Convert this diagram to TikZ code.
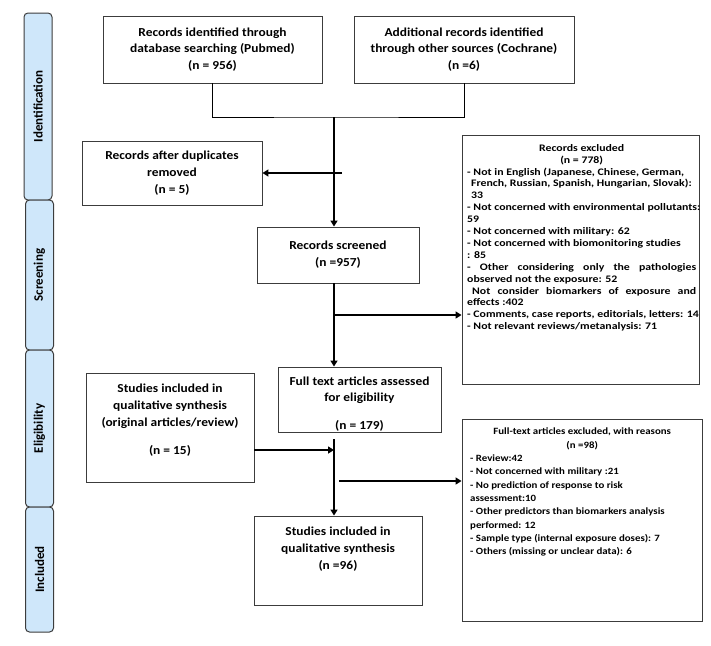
\documentclass[tikz,border=0pt]{standalone}
\usepackage{fontspec}
\setmainfont{Carlito}
\newfontfamily\boxfont{Carlito}[FakeStretch=1.1]
\newfontfamily\exafont{Carlito}[FakeStretch=1.18]
\newfontfamily\exbfont{Carlito}[FakeStretch=1.13]
\usetikzlibrary{arrows.meta}
\definecolor{tabblue}{RGB}{207,231,250}
\definecolor{edge}{RGB}{60,60,60}

\begin{document}
\begin{tikzpicture}[x=1pt,y=-1pt,
        box/.style={draw=edge, line width=0.9pt, fill=white, align=center, inner sep=0pt,
                    font=\boxfont\bfseries\fontsize{12.2}{16.8}\selectfont},
        lbl/.style={align=center, inner sep=0pt, font=\boxfont\bfseries\fontsize{12.2}{16.8}\selectfont},
        small/.style={align=left, inner sep=0pt, font=\exafont\bfseries\fontsize{10}{11.9}\selectfont},
        smaller/.style={align=left, inner sep=0pt, font=\exbfont\bfseries\fontsize{9.6}{13.3}\selectfont},
        tab/.style={draw=edge, line width=1pt, fill=tabblue, rounded corners=4pt, rotate=90,
                    minimum height=28pt, inner sep=0pt, font=\bfseries\fontsize{13}{15}\selectfont},
        ln/.style={line width=0.9pt},
        arr/.style={line width=2pt, -{Triangle[length=6pt,width=7pt]}}]
        \useasboundingbox (0,0) rectangle (711,645);
        % phase tabs
        \node[tab, minimum width=187pt] (ident) at (38,106.5) {Identification};
        \node[tab, minimum width=150pt] (screen) at (39.5,275) {Screening};
        \node[tab, minimum width=157pt] (elig) at (39.5,428.5) {Eligibility};
        \node[tab, minimum width=125pt] (incl) at (39.5,569.5) {Included};
        % boxes
        \node[box, minimum width=219pt, minimum height=67pt] (pubmed) at (212.5,49.5)
            {Records identified through\\database searching (Pubmed)\\(n = 956)};
        \node[box, minimum width=220pt, minimum height=67pt] (cochrane) at (464,49.5)
            {Additional records identified\\through other sources (Cochrane)\\(n =6)};
        \node[box, minimum width=180pt, minimum height=64pt] (dup) at (172,173)
            {Records after duplicates\\removed\\(n = 5)};
        \node[box, minimum width=162pt, minimum height=56pt] (screened) at (338,255)
            {Records screened\\(n =957)};
        \node[box, minimum width=163pt, minimum height=65pt] (full) at (359.5,399.5) {};
        \node[box, minimum width=168pt, minimum height=109pt] (s15) at (170,427.5) {};
        \node[box, minimum width=168pt, minimum height=89pt] (s96) at (338,560.5) {};
        \node[box, minimum width=237pt, minimum height=249pt] (excl1) at (580.5,259.5) {};
        \node[box, minimum width=240pt, minimum height=202pt] (excl2) at (582,520) {};
        % texts
        \node[lbl] (fulltxt) at (359.5,404) {Full text articles assessed\\for eligibility\\[11pt](n = 179)};
        \node[lbl] (s15txt) at (170,420) {Studies included in\\qualitative synthesis\\(original articles/review)\\[11pt](n = 15)};
        \node[lbl] (s96txt) at (338,549) {Studies included in\\qualitative synthesis\\(n =96)};
        \node[small, anchor=north west] (ex1txt) at (467,144) {%
            \makebox[229pt]{Records excluded}\\
            \makebox[229pt]{(n = 778)}\\
            - Not in English (Japanese, Chinese, German,\\
            \hspace*{4pt}French, Russian, Spanish, Hungarian, Slovak):\\
            \hspace*{4pt}33\\
            - Not concerned with environmental pollutants:\\
            59\\
            - Not concerned with military: 62\\
            - Not concerned with biomonitoring studies\\
            : 85\\
            \makebox[229pt][s]{- Other considering only the pathologies}\\
            observed not the exposure: 52\\
            \hspace*{5pt}\makebox[224pt][s]{Not consider biomarkers of exposure and}\\
            effects :402\\
            - Comments, case reports, editorials, letters: 14\\
            - Not relevant reviews/metanalysis: 71};
        \node[smaller, anchor=north west] (ex2txt) at (470,428) {%
            \makebox[224pt]{Full-text articles excluded, with reasons}\\
            \makebox[224pt]{(n =98)}\\
            - Review:42\\
            - Not concerned with military :21\\
            - No prediction of response to risk\\
            assessment:10\\
            - Other predictors than biomarkers analysis\\
            performed: 12\\
            - Sample type (internal exposure doses): 7\\
            - Others (missing or unclear data): 6};
        % connectors
        \coordinate (join) at (334,117);
        \coordinate (dupfrom) at (342,173);
        \coordinate (br1) at (334,315);
        \coordinate (mid2) at (334,450);
        \coordinate (ftout) at (334,439);
        \coordinate (br2) at (339,481);
        \draw[ln] (pubmed.south) |- (join) -| (cochrane.south);
        \draw[arr] (join) -- (join |- screened.north);
        \draw[arr] (dupfrom) -- (dup.east);
        \draw[arr] (join |- screened.south) -- (join |- full.north);
        \draw[arr] (br1) -- (br1 -| excl1.west);
        \draw[arr] (mid2 -| s15.east) -- (mid2);
        \draw[arr] (ftout) -- (ftout |- s96.north);
        \draw[arr] (br2) -- (br2 -| excl2.west);
\end{tikzpicture}
\end{document}
